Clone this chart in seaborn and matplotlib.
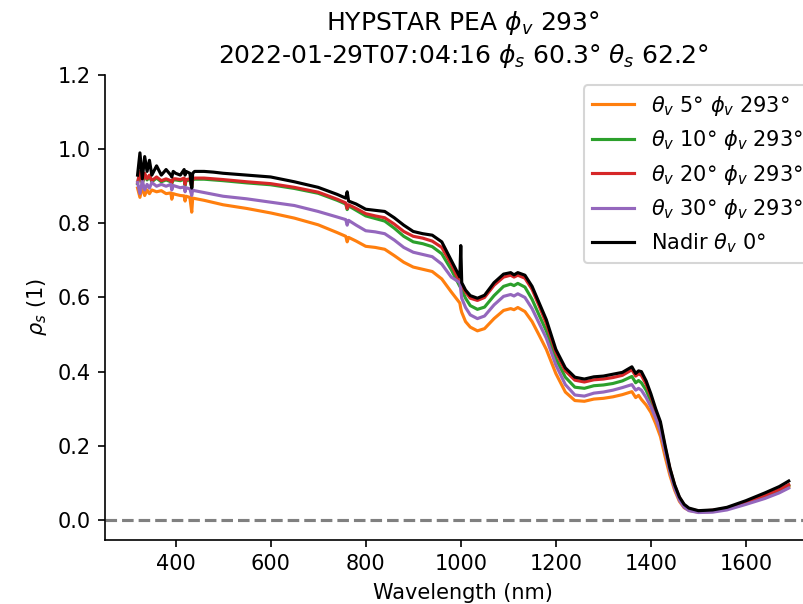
import matplotlib
matplotlib.use("Agg")
import matplotlib.pyplot as plt
import seaborn as sns
import pandas as pd

wavelength = [320, 325, 330, 335, 340, 345, 350, 360, 370, 380, 390, 392, 395, 400, 410, 418, 420, 422,
              430, 434, 436, 440, 460, 480, 500, 550, 600, 650, 700, 740, 758, 761, 764, 780, 800, 820,
              840, 860, 880, 900, 920, 940, 960, 980, 998, 1000, 1002, 1010, 1020, 1035, 1050, 1070, 1090,
              1105, 1112, 1120, 1135, 1150, 1165, 1180, 1200, 1220, 1240, 1260, 1280, 1300, 1320, 1340,
              1360, 1368, 1374, 1380, 1390, 1400, 1410, 1420, 1430, 1440, 1450, 1460, 1470, 1480, 1500,
              1530, 1560, 1600, 1640, 1670, 1690]

rho_nadir = [0.93, 0.99, 0.92, 0.98, 0.94, 0.97, 0.93, 0.955, 0.93, 0.945, 0.93, 0.925, 0.94, 0.935, 0.93,
             0.945, 0.93, 0.94, 0.935, 0.895, 0.935, 0.94, 0.94, 0.938, 0.935, 0.93, 0.925, 0.912, 0.897,
             0.878, 0.868, 0.885, 0.86, 0.852, 0.838, 0.835, 0.832, 0.815, 0.795, 0.778, 0.772, 0.768,
             0.75, 0.70, 0.655, 0.74, 0.64, 0.62, 0.605, 0.598, 0.606, 0.64, 0.663, 0.667, 0.661, 0.667,
             0.66, 0.63, 0.585, 0.54, 0.46, 0.41, 0.385, 0.38, 0.386, 0.388, 0.393, 0.398, 0.413, 0.395,
             0.402, 0.40, 0.375, 0.34, 0.30, 0.265, 0.20, 0.14, 0.095, 0.062, 0.042, 0.032, 0.025, 0.027,
             0.034, 0.052, 0.073, 0.09, 0.105]

rho_20 = [0.91, 0.94, 0.91, 0.935, 0.92, 0.93, 0.915, 0.925, 0.915, 0.92, 0.915, 0.91, 0.92, 0.92, 0.918,
          0.922, 0.905, 0.918, 0.92, 0.90, 0.92, 0.922, 0.922, 0.92, 0.918, 0.912, 0.907, 0.897, 0.884,
          0.865, 0.855, 0.84, 0.85, 0.84, 0.826, 0.82, 0.815, 0.798, 0.778, 0.765, 0.76, 0.752, 0.735,
          0.69, 0.64, 0.638, 0.633, 0.615, 0.598, 0.592, 0.60, 0.633, 0.655, 0.66, 0.655, 0.66, 0.652,
          0.622, 0.577, 0.53, 0.452, 0.402, 0.377, 0.372, 0.378, 0.38, 0.384, 0.39, 0.405, 0.388, 0.394,
          0.39, 0.366, 0.333, 0.295, 0.258, 0.195, 0.138, 0.093, 0.06, 0.04, 0.03, 0.024, 0.026, 0.032,
          0.048, 0.066, 0.082, 0.095]

rho_10 = [0.907, 0.937, 0.907, 0.932, 0.917, 0.927, 0.912, 0.922, 0.912, 0.917, 0.912, 0.907, 0.917, 0.917,
          0.915, 0.919, 0.902, 0.915, 0.917, 0.897, 0.917, 0.919, 0.919, 0.917, 0.915, 0.909, 0.904, 0.894,
          0.881, 0.862, 0.852, 0.837, 0.847, 0.835, 0.82, 0.813, 0.806, 0.787, 0.765, 0.75, 0.745, 0.737,
          0.718, 0.675, 0.63, 0.628, 0.622, 0.598, 0.578, 0.568, 0.574, 0.605, 0.63, 0.636, 0.632, 0.638,
          0.628, 0.595, 0.552, 0.51, 0.435, 0.385, 0.358, 0.355, 0.362, 0.364, 0.368, 0.375, 0.387, 0.37,
          0.376, 0.37, 0.35, 0.32, 0.285, 0.25, 0.19, 0.135, 0.09, 0.058, 0.038, 0.029, 0.023, 0.025,
          0.031, 0.047, 0.065, 0.08, 0.093]

rho_30 = [0.91, 0.88, 0.915, 0.89, 0.905, 0.895, 0.91, 0.90, 0.905, 0.90, 0.905, 0.89, 0.902, 0.90, 0.896,
          0.898, 0.885, 0.896, 0.893, 0.875, 0.89, 0.888, 0.883, 0.878, 0.873, 0.866, 0.857, 0.848, 0.832,
          0.817, 0.81, 0.795, 0.808, 0.795, 0.78, 0.777, 0.772, 0.755, 0.735, 0.722, 0.716, 0.71, 0.69,
          0.655, 0.64, 0.62, 0.598, 0.573, 0.553, 0.543, 0.55, 0.58, 0.603, 0.608, 0.604, 0.61, 0.60,
          0.57, 0.53, 0.49, 0.418, 0.365, 0.337, 0.334, 0.342, 0.345, 0.35, 0.357, 0.365, 0.35, 0.355,
          0.35, 0.33, 0.305, 0.275, 0.24, 0.185, 0.13, 0.085, 0.053, 0.034, 0.025, 0.02, 0.021, 0.027,
          0.042, 0.058, 0.073, 0.086]

rho_5 = [0.895, 0.87, 0.90, 0.875, 0.89, 0.88, 0.89, 0.885, 0.888, 0.88, 0.882, 0.865, 0.88, 0.878, 0.875,
         0.874, 0.86, 0.873, 0.87, 0.83, 0.868, 0.867, 0.862, 0.856, 0.85, 0.84, 0.828, 0.814, 0.796,
         0.775, 0.765, 0.75, 0.762, 0.752, 0.738, 0.735, 0.73, 0.713, 0.695, 0.682, 0.676, 0.67, 0.65,
         0.615, 0.585, 0.57, 0.56, 0.535, 0.52, 0.51, 0.516, 0.543, 0.565, 0.57, 0.567, 0.573, 0.562,
         0.535, 0.498, 0.46, 0.395, 0.345, 0.322, 0.32, 0.326, 0.328, 0.332, 0.338, 0.346, 0.33, 0.336,
         0.325, 0.31, 0.29, 0.26, 0.225, 0.17, 0.12, 0.08, 0.05, 0.033, 0.026, 0.021, 0.023, 0.03,
         0.046, 0.064, 0.078, 0.09]

labels = [r"$\theta_v$ 5° $\phi_v$ 293°", r"$\theta_v$ 10° $\phi_v$ 293°", r"$\theta_v$ 20° $\phi_v$ 293°",
          r"$\theta_v$ 30° $\phi_v$ 293°", r"Nadir $\theta_v$ 0°"]
series = [rho_5, rho_10, rho_20, rho_30, rho_nadir]
colors = ["tab:orange", "tab:green", "tab:red", "tab:purple", "black"]

plt.rcParams["font.family"] = ["DejaVu Sans"]

fig = plt.figure(figsize=(803 / 150, 604 / 150), dpi=150)
ax = fig.add_axes([105 / 803, 1 - 539.6 / 604, (821.3 - 105) / 803, (539.6 - 75) / 604])

for lbl, vals, col in zip(labels, series, colors):
    df = pd.DataFrame({"wl": wavelength, "rho": vals})
    sns.lineplot(data=df, x="wl", y="rho", color=col, label=lbl, ax=ax, lw=1.5,
                 estimator=None, sort=False)

ax.axhline(0, color="gray", linestyle="--", lw=1.5)
ax.set_xlim(251.5, 1758.5)
ax.set_ylim(-0.053, 1.2)
ax.set_xlabel("Wavelength (nm)")
ax.set_ylabel(r"$\rho_s$ (1)")
ax.set_title("HYPSTAR PEA $\\phi_v$ 293°\n2022-01-29T07:04:16 $\\phi_s$ 60.3° $\\theta_s$ 62.2°")
ax.legend(loc="upper right")
sns.despine(ax=ax, top=True, right=True)

fig.savefig("out.png", dpi=150)
